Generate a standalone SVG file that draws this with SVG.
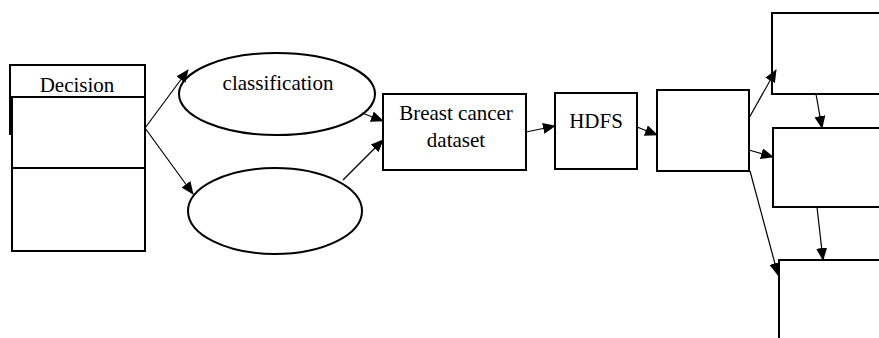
<svg xmlns="http://www.w3.org/2000/svg" width="879" height="338" viewBox="0 0 879 338">
<style>
.b{fill:#fff;stroke:#000;stroke-width:2}
.t{font-family:'Liberation Serif','Times New Roman',Times,serif;font-size:21px;fill:#000;text-anchor:middle}
.c{stroke:#000;stroke-width:1.2;fill:none;marker-end:url(#ah)}
</style>
<defs>
<marker id="ah" markerWidth="13" markerHeight="11" refX="12" refY="5.5" orient="auto" markerUnits="userSpaceOnUse">
<path d="M0,0 L13,5.5 L0,11 Z" fill="#000"/>
</marker>
</defs>
<rect width="879" height="338" fill="#fff"/>
<g id="decision">
<rect class="b" x="10" y="65" width="135" height="69"/>
<text class="t" x="77" y="92">Decision</text>
<rect class="b" x="12" y="97" width="133" height="71"/>
<rect class="b" x="12" y="168" width="133" height="83"/>
</g>
<g id="classification">
<ellipse class="b" cx="277" cy="94" rx="98" ry="41"/>
<text class="t" x="278" y="90">classification</text>
</g>
<g id="ellipse2">
<ellipse class="b" cx="275" cy="211" rx="87" ry="43"/>
</g>
<g id="breast">
<rect class="b" x="383" y="94" width="143" height="76"/>
<text class="t" x="456" y="120">Breast cancer</text>
<text class="t" x="456" y="147">dataset</text>
</g>
<g id="hdfs">
<rect class="b" x="555" y="93" width="82" height="76"/>
<text class="t" x="596" y="128">HDFS</text>
</g>
<g id="box3">
<rect class="b" x="657" y="90" width="92" height="81"/>
</g>
<g id="right1">
<rect class="b" x="772" y="13" width="120" height="81"/>
</g>
<g id="right2">
<rect class="b" x="773" y="128" width="120" height="79"/>
</g>
<g id="right3">
<rect class="b" x="779" y="260" width="120" height="100"/>
</g>
<g id="connectors">
<line class="c" x1="145" y1="128" x2="188" y2="70"/>
<line class="c" x1="145" y1="128" x2="193" y2="194"/>
<line class="c" x1="362" y1="113" x2="383" y2="121"/>
<line class="c" x1="343" y1="180" x2="383" y2="140"/>
<line class="c" x1="526" y1="132" x2="555" y2="126"/>
<line class="c" x1="637" y1="127" x2="657" y2="135"/>
<line class="c" x1="749" y1="118" x2="776" y2="70"/>
<line class="c" x1="749" y1="150" x2="773" y2="157"/>
<line class="c" x1="750" y1="171" x2="778" y2="275"/>
<line class="c" x1="816" y1="94" x2="822" y2="128"/>
<line class="c" x1="817" y1="207" x2="823" y2="260"/>
</g>
</svg>
